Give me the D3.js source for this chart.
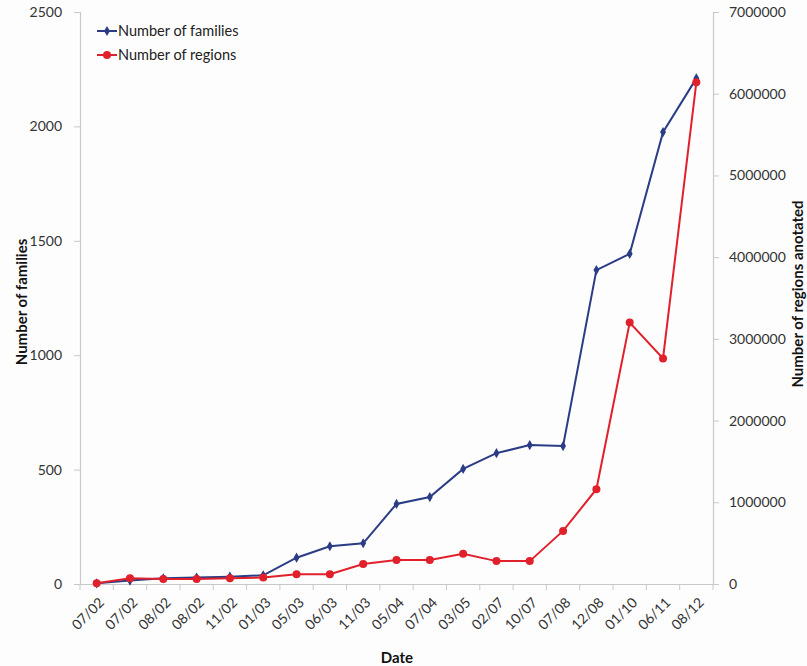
<!DOCTYPE html>
<html><head><meta charset="utf-8">
<script src="https://cdn.jsdelivr.net/npm/d3@7/dist/d3.min.js"></script>
<style>body{margin:0;background:#fdfdfd;} svg{display:block;}</style>
</head><body>
<svg id="chart" width="807" height="666"></svg>
<script>
const dates = ["07/02","07/02","08/02","08/02","11/02","01/03","05/03","06/03","11/03","05/04","07/04","03/05","02/07","10/07","07/08","12/08","01/10","06/11","08/12"];
const families = [3,15,25,28,32,38,115,165,178,350,380,503,572,607,603,1372,1443,1975,2210];
const regions = [10000,70000,60000,60000,70000,80000,120000,120000,245000,295000,295000,370000,280000,280000,650000,1160000,3200000,2760000,6140000];
const leftTicks = [0,500,1000,1500,2000,2500];
const rightTicks = [0,1000000,2000000,3000000,4000000,5000000,6000000,7000000];

const svg = d3.select("#chart");
const font = "Lato, 'Open Sans', sans-serif";
const m = {l:80, r:713, t:12, b:584};
const idx = dates.map((d,i)=>i);
const x = d3.scaleBand().domain(idx).range([m.l, m.r]);
const yL = d3.scaleLinear().domain([0,2500]).range([m.b, m.t]);
const yR = d3.scaleLinear().domain([0,7000000]).range([m.b, m.t]);
const axisCol = "#c9c9c9";

const gL = svg.append("g").attr("transform",`translate(${m.l},0)`)
  .call(d3.axisLeft(yL).tickValues(leftTicks).tickSize(6).tickPadding(12).tickFormat(d3.format("d")));
const gR = svg.append("g").attr("transform",`translate(${m.r},0)`)
  .call(d3.axisRight(yR).tickValues(rightTicks).tickSize(6).tickPadding(10).tickFormat(d3.format("d")));
const gB = svg.append("g").attr("transform",`translate(0,${m.b})`)
  .call(d3.axisBottom(x).tickFormat(i=>dates[i]).tickSize(0).tickPadding(12));
const boundaries = d3.range(dates.length+1).map(k => m.l + k*x.step());
svg.append("g").selectAll("line").data(boundaries).join("line")
  .attr("x1",d=>d).attr("x2",d=>d).attr("y1",m.b).attr("y2",m.b+6)
  .attr("stroke",axisCol).attr("stroke-width",1);

[gL,gR,gB].forEach(g=>{
  g.selectAll(".domain").attr("stroke",axisCol).attr("stroke-width",1.2);
  g.selectAll(".tick line").attr("stroke",axisCol);
  g.selectAll("text").attr("font-family",font).attr("font-size",14).attr("fill","#333");
});
gB.selectAll(".tick text")
  .attr("text-anchor","end")
  .attr("transform","translate(-6,5) rotate(-45)")
  .attr("dx","0").attr("dy","0.6em");

const lineF = d3.line().x((d,i)=>x(i)+x.bandwidth()/2).y(d=>yL(d));
const lineR = d3.line().x((d,i)=>x(i)+x.bandwidth()/2).y(d=>yR(d));
const blue = "#2b3c86", red = "#e0202b";
svg.append("path").datum(families).attr("d",lineF).attr("fill","none").attr("stroke",blue).attr("stroke-width",2);
svg.append("g").selectAll("path").data(families).join("path")
  .attr("d",d3.symbol(d3.symbolDiamond,30))
  .attr("transform",(d,i)=>`translate(${x(i)+x.bandwidth()/2},${yL(d)})`)
  .attr("fill",blue);
svg.append("path").datum(regions).attr("d",lineR).attr("fill","none").attr("stroke",red).attr("stroke-width",2);
svg.append("g").selectAll("circle").data(regions).join("circle")
  .attr("cx",(d,i)=>x(i)+x.bandwidth()/2).attr("cy",d=>yR(d)).attr("r",4)
  .attr("fill",red);

const leg = [{name:"Number of families", col:blue, sym:"d"},{name:"Number of regions", col:red, sym:"c"}];
leg.forEach((s,i)=>{
  const yy = 31 + i*24;
  svg.append("line").attr("x1",97).attr("x2",117).attr("y1",yy).attr("y2",yy).attr("stroke",s.col).attr("stroke-width",2);
  if(s.sym==="d") svg.append("path").attr("d",d3.symbol(d3.symbolDiamond,30)).attr("transform",`translate(107,${yy})`).attr("fill",s.col);
  else svg.append("circle").attr("cx",107).attr("cy",yy).attr("r",4).attr("fill",s.col);
  svg.append("text").attr("x",118).attr("y",yy).attr("dy","0.35em").attr("font-family",font).attr("font-size",14.5).attr("fill","#222").text(s.name);
});

svg.append("text").attr("transform","translate(22,302) rotate(-90)").attr("text-anchor","middle").attr("dy","0.35em")
  .attr("font-family",font).attr("font-weight","bold").attr("font-size",15).attr("fill","#111").text("Number of families");
svg.append("text").attr("transform","translate(798,294) rotate(-90)").attr("text-anchor","middle").attr("dy","0.35em")
  .attr("font-family",font).attr("font-weight","bold").attr("font-size",15).attr("fill","#111").text("Number of regions anotated");
svg.append("text").attr("x",397).attr("y",658).attr("text-anchor","middle").attr("dy","0.35em")
  .attr("font-family",font).attr("font-weight","bold").attr("font-size",15).attr("fill","#111").text("Date");
</script>
</body></html>
